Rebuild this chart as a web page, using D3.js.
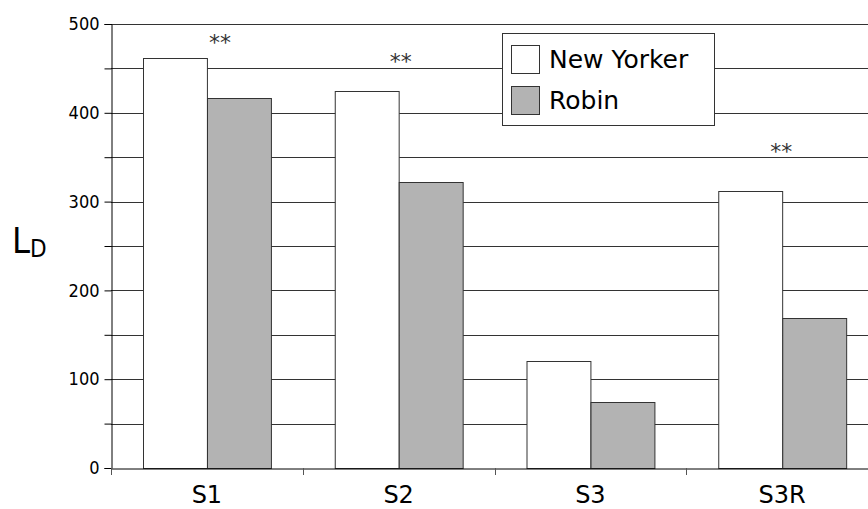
<!DOCTYPE html>
<html><head><meta charset="utf-8">
<script src="https://cdn.jsdelivr.net/npm/d3@7"></script>
<style>body{margin:0;background:#fff}svg{display:block}</style>
</head><body>
<script>
const categories = ["S1", "S2", "S3", "S3R"];
const seriesNames = ["New Yorker", "Robin"];
const newYorker = [462, 424, 120, 312];
const robin = [417, 322, 74, 169];
const yTicks = [0, 100, 200, 300, 400, 500];
const gridValues = [50, 100, 150, 200, 250, 300, 350, 400, 450, 500];
const annotCats = ["S1", "S2", "S3R"];
const annotValues = [484, 463, 361];
const annotText = ["**", "**", "**"];

const W = 868, H = 509;
const m = {left: 111, top: 24, right: -10, bottom: 41};
const colors = ["#ffffff", "#b3b3b3"];
const fontC = "'DejaVu Sans Condensed', 'DejaVu Sans', sans-serif";
const font = "'DejaVu Sans', sans-serif";

const svg = d3.select("body").append("svg").attr("width", W).attr("height", H);
const x = d3.scaleBand().domain(categories).range([m.left, 878]).paddingInner(0).paddingOuter(0);
const xs = d3.scaleBand().domain(seriesNames).range([0, x.bandwidth()]).paddingInner(0).paddingOuter(0.5);
const y = d3.scaleLinear().domain([0, 500]).range([H - m.bottom, m.top]);

// gridlines
svg.append("g").selectAll("line").data(gridValues).join("line")
  .attr("x1", m.left).attr("x2", 878)
  .attr("y1", d => Math.round(y(d)) + 0.5).attr("y2", d => Math.round(y(d)) + 0.5)
  .attr("stroke", "#333").attr("stroke-width", 1);

// bars
const data = categories.map((c, i) => ({c, vals: [newYorker[i], robin[i]]}));
const g = svg.append("g").selectAll("g").data(data).join("g")
  .attr("transform", d => `translate(${x(d.c)},0)`);
g.selectAll("rect").data(d => d.vals.map((v, j) => ({v, s: seriesNames[j], j}))).join("rect")
  .attr("x", d => Math.round(xs(d.s)) + 0.5)
  .attr("y", d => Math.round(y(d.v)) + 0.5)
  .attr("width", xs.bandwidth())
  .attr("height", d => Math.round(y(0)) - Math.round(y(d.v)))
  .attr("fill", d => colors[d.j]).attr("stroke", "#333").attr("stroke-width", 1);

// y axis
const yAxis = d3.axisLeft(y).tickValues(gridValues.concat([0])).tickSize(7).tickPadding(5)
  .tickFormat(d => yTicks.includes(d) ? d : "");
const ya = svg.append("g").attr("transform", `translate(${m.left + 0.5},0)`).call(yAxis);
ya.select(".domain").attr("stroke", "#000");
ya.selectAll(".tick line").attr("stroke", "#000");
ya.selectAll("text").attr("font-family", fontC).attr("font-size", 18).attr("fill", "#000");

// x axis
const xa = svg.append("g").attr("transform", `translate(0,${Math.round(y(0)) + 0.5})`)
  .call(d3.axisBottom(x).tickSize(0).tickPadding(17));
xa.select(".domain").attr("stroke", "#000");
xa.selectAll("text").attr("font-family", font).attr("font-size", 24).attr("fill", "#000");
svg.append("g").selectAll("line").data(categories).join("line")
  .attr("x1", d => Math.round(x(d)) + 0.5).attr("x2", d => Math.round(x(d)) + 0.5)
  .attr("y1", Math.round(y(0))).attr("y2", Math.round(y(0)) + 7)
  .attr("stroke", "#555");

// annotations
svg.append("g").selectAll("text").data(annotCats).join("text")
  .attr("x", (d, i) => x(d) + x.bandwidth() / 2 + (i === 0 ? 13 : i === 1 ? 2 : -1))
  .attr("y", (d, i) => y(annotValues[i]) + 12)
  .attr("text-anchor", "middle")
  .attr("font-family", font).attr("font-size", 22).attr("fill", "#333")
  .text((d, i) => annotText[i]);

// y label
const yl = svg.append("text").attr("x", 12).attr("y", 253)
  .attr("font-family", fontC).attr("font-size", 36).attr("fill", "#000");
yl.append("tspan").text("L");
yl.append("tspan").attr("font-size", 24).attr("dy", 4).text("D");

// legend
const lg = svg.append("g").attr("transform", "translate(502,33)");
lg.append("rect").attr("x", 0.5).attr("y", 0.5).attr("width", 212).attr("height", 92)
  .attr("fill", "#fff").attr("stroke", "#333");
seriesNames.forEach((s, i) => {
  lg.append("rect").attr("x", 9.5).attr("y", 12.5 + i * 41).attr("width", 28).attr("height", 28)
    .attr("fill", colors[i]).attr("stroke", "#333");
  lg.append("text").attr("x", 47).attr("y", 35 + i * 41)
    .attr("font-family", font).attr("font-size", 25).attr("fill", "#000").text(s);
});
</script>
</body></html>
